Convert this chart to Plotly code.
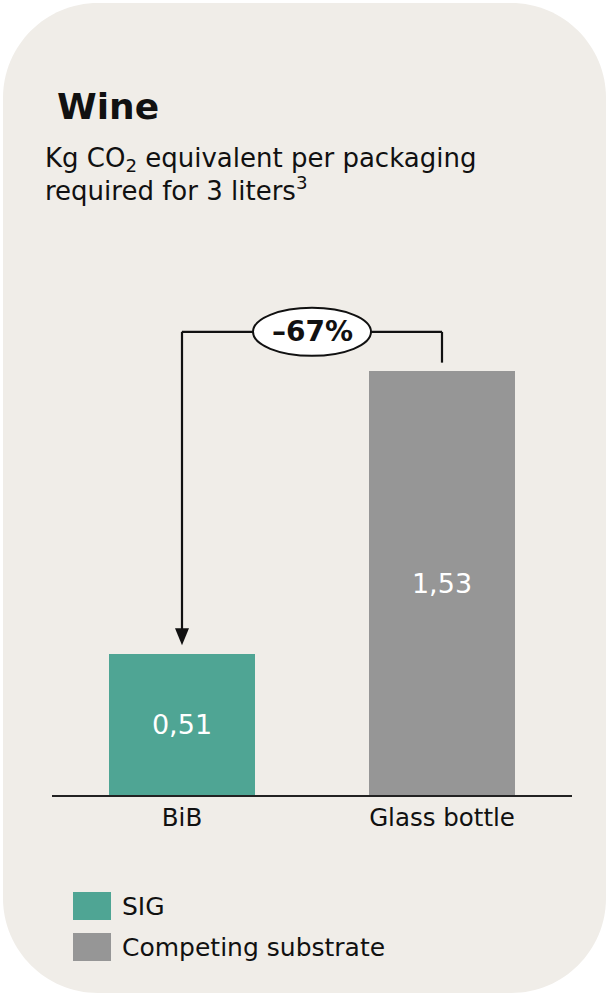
import plotly.graph_objects as go

# ---- data ----
categories = ["BiB", "Glass bottle"]
values = [0.51, 1.53]
value_labels = ["0,51", "1,53"]
series_names = ["SIG", "Competing substrate"]
change_label = "\u201367%"
title_text = "Wine"
subtitle_line1 = "Kg CO<sub>2</sub> equivalent per packaging"
subtitle_line2 = "required for 3 liters<sup>3</sup>"

# ---- styles ----
W, H = 608, 994
TEAL = "#4fa594"
GRAY = "#969696"
CARD = "#f0ede8"
INK = "#111111"
FONT = "DejaVu Sans"
colors = [TEAL, GRAY]

def py(p):
    return 1 - p / H

fig = go.Figure()
fig.add_trace(go.Bar(
    x=categories, y=values, marker=dict(color=colors, line=dict(width=0)),
    width=0.56, text=value_labels, textposition="inside",
    insidetextanchor="middle", textangle=0,
    textfont=dict(color="white", size=27, family=FONT),
    showlegend=False, hoverinfo="skip",
))

ymax = 1.786
bracket_y = 1.671
stub_end = values[1] + 0.03
arrow_tip = values[0] + 0.03

shapes = []
# card background (pixel-sized path anchored to paper origin)
r = 95
x0, x1, yb, yt = 3, 606, 1, 991  # pixel coords, y up from bottom
k = 0.5523 * r
path = (f"M {x0+r},{yt} L {x1-r},{yt} C {x1-r+k},{yt} {x1},{yt-r+k} {x1},{yt-r} "
        f"L {x1},{yb+r} C {x1},{yb+r-k} {x1-r+k},{yb} {x1-r},{yb} "
        f"L {x0+r},{yb} C {x0+r-k},{yb} {x0},{yb+r-k} {x0},{yb+r} "
        f"L {x0},{yt-r} C {x0},{yt-r+k} {x0+r-k},{yt} {x0+r},{yt} Z")
shapes.append(dict(type="path", xref="paper", yref="paper", xsizemode="pixel",
                   ysizemode="pixel", xanchor=0, yanchor=0, path=path,
                   fillcolor=CARD, line=dict(width=0), layer="below"))
# bracket lines
lw = 2.2
shapes.append(dict(type="line", xref="x", yref="y", x0=0, x1=1, y0=bracket_y, y1=bracket_y,
                   line=dict(color=INK, width=lw)))
shapes.append(dict(type="line", xref="x", yref="y", x0=1, x1=1, y0=bracket_y, y1=stub_end,
                   line=dict(color=INK, width=lw)))
shapes.append(dict(type="line", xref="x", yref="y", x0=0, x1=0, y0=bracket_y, y1=arrow_tip + 0.05,
                   line=dict(color=INK, width=lw)))
# arrow head (pixel sized)
shapes.append(dict(type="path", xref="x", yref="y", xsizemode="pixel", ysizemode="pixel",
                   xanchor=0, yanchor=arrow_tip, path="M -7,17 L 7,17 L 0,0 Z",
                   fillcolor=INK, line=dict(width=0)))
# ellipse badge
shapes.append(dict(type="circle", xref="x", yref="y", xsizemode="pixel", ysizemode="pixel",
                   xanchor=0.5, yanchor=bracket_y, x0=-59, x1=59, y0=-24, y1=24,
                   fillcolor="white", line=dict(color=INK, width=2)))
# legend swatches
leg_y = [906, 947]
for c, yc in zip(colors, leg_y):
    shapes.append(dict(type="rect", xref="paper", yref="paper",
                       x0=73 / W, x1=111 / W, y0=py(yc + 14), y1=py(yc - 14),
                       fillcolor=c, line=dict(width=0)))

annotations = [
    dict(text=f"<b>{change_label}</b>", x=0.5, y=bracket_y, xref="x", yref="y",
         showarrow=False, font=dict(size=28, color=INK, family=FONT)),
    dict(text=f"<b>{title_text}</b>", x=55 / W, y=py(107), xref="paper", yref="paper",
         xanchor="left", yanchor="middle", showarrow=False,
         font=dict(size=36, color=INK, family=FONT)),
    dict(text=subtitle_line1, x=43 / W, y=py(160), xref="paper", yref="paper",
         xanchor="left", yanchor="middle", showarrow=False,
         font=dict(size=26, color=INK, family=FONT)),
    dict(text=subtitle_line2, x=43 / W, y=py(189), xref="paper", yref="paper",
         xanchor="left", yanchor="middle", showarrow=False,
         font=dict(size=26, color=INK, family=FONT)),
]
for name, yc in zip(series_names, leg_y):
    annotations.append(dict(text=name, x=120 / W, y=py(yc), xref="paper", yref="paper",
                            xanchor="left", yanchor="middle", showarrow=False,
                            font=dict(size=25, color=INK, family=FONT)))

fig.update_layout(
    width=W, height=H, margin=dict(l=0, r=0, t=0, b=0),
    paper_bgcolor="white", plot_bgcolor="rgba(0,0,0,0)",
    shapes=shapes, annotations=annotations, bargap=0,
    xaxis=dict(domain=[52 / W, 572 / W], range=[-0.5, 1.5], showgrid=False,
               showline=True, linecolor="#222222", linewidth=2, ticks="",
               tickfont=dict(size=24.5, color=INK, family=FONT), anchor="y"),
    yaxis=dict(domain=[py(795), py(300)], range=[0, ymax], showgrid=False,
               showticklabels=False, zeroline=False, showline=False),
    font=dict(family=FONT),
)
fig.write_html("out.html")
